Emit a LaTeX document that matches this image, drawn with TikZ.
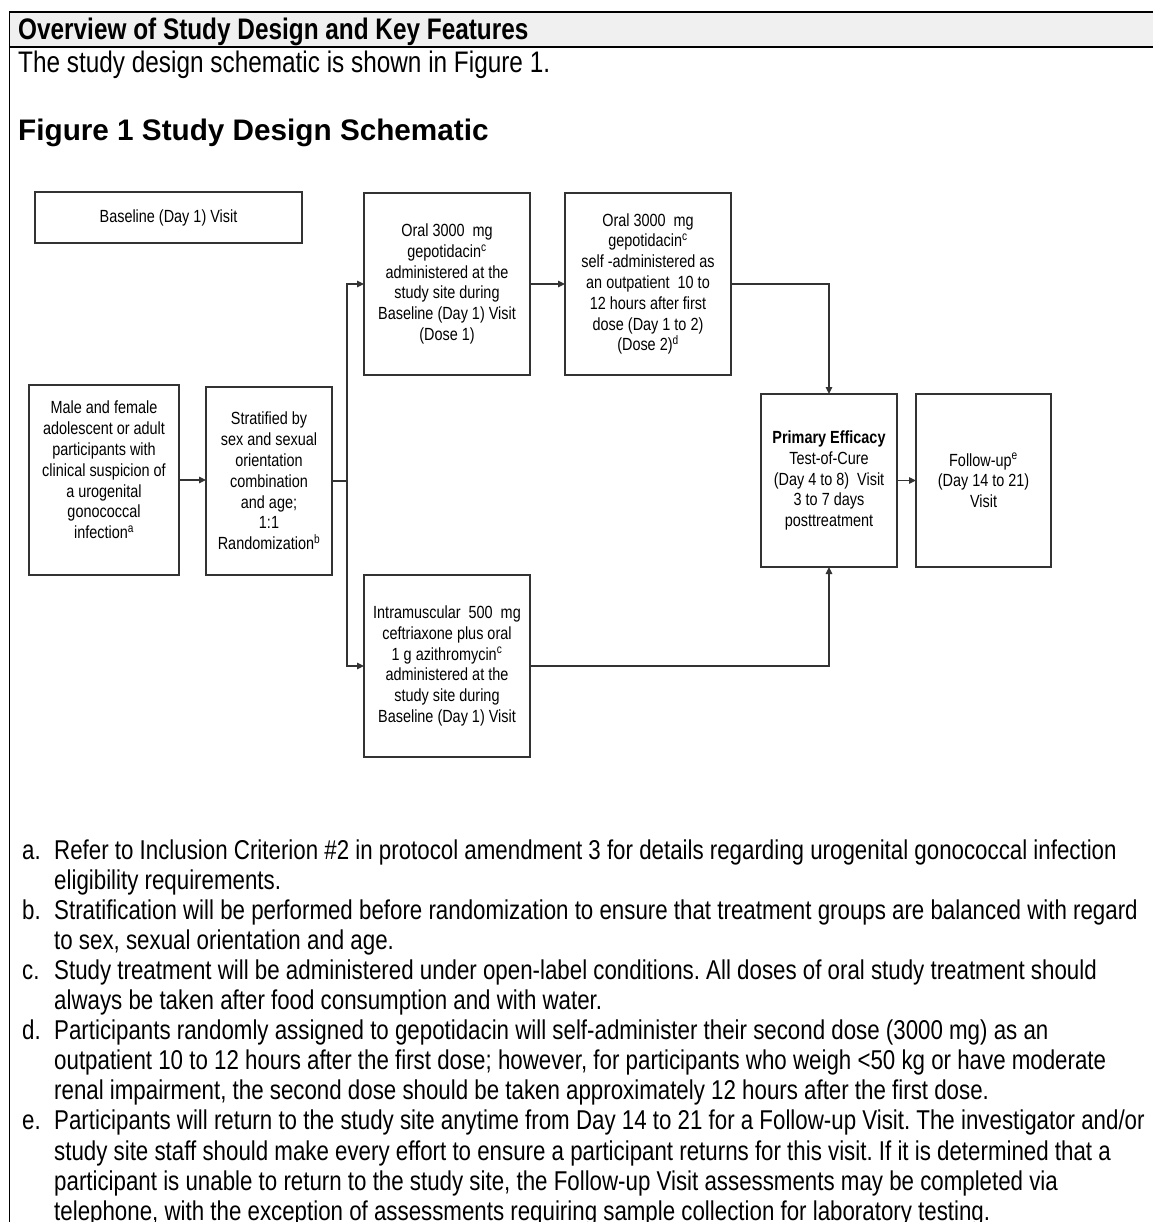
\documentclass[tikz,border=0pt]{standalone}
\usepackage{fontspec}
\setmainfont{Liberation Sans}
\newfontfamily\narrowfont[FakeStretch=0.82]{Liberation Sans}
\usetikzlibrary{arrows.meta}
\frenchspacing
\begin{document}
\begin{tikzpicture}[x=1pt,y=-1pt,
  boxnode/.style={draw=black!80, line width=1.2pt, inner sep=0pt, outer sep=0pt, align=center,
    font=\narrowfont\fontsize{17.6}{20.8}\selectfont},
  boxtext/.style={inner sep=0pt, align=center, font=\narrowfont\fontsize{17.6}{20.8}\selectfont},
  conn/.style={draw=black!80, line width=1.2pt},
  arr/.style={conn, -{Triangle[length=7pt,width=6.5pt]}},
  foot/.style={anchor=base west, inner sep=0pt, font=\frenchspacing\narrowfont\fontsize{27.2}{30}\selectfont},
]
\useasboundingbox (0,0) rectangle (1153,1222);
\fill[white] (0,0) rectangle (1153,1222);
% table frame
\fill[black!6] (9.5,12) rectangle (1153,47);
\draw[line width=1.7pt] (9.5,12) -- (1153,12);
\draw[line width=1.7pt] (9.5,47) -- (1153,47);
\draw[line width=1.3pt] (9.5,11.2) -- (9.5,1222);
\node[anchor=base west, inner sep=0pt, font=\narrowfont\bfseries\fontsize{29.7}{30}\selectfont] (hdr) at (18,40) {Overview of Study Design and Key Features};
\node[anchor=base west, inner sep=0pt, font=\narrowfont\fontsize{29.7}{30}\selectfont] (intro) at (18,73) {The study design schematic is shown in Figure 1.};
\node[anchor=base west, inner sep=0pt, font=\bfseries\fontsize{29.7}{30}\selectfont] (title) at (18,141) {Figure 1 Study Design Schematic};

% boxes
\node[boxnode, minimum width=267pt, minimum height=51pt] (base) at (168.5,217.5) {Baseline (Day 1) Visit};
\node[boxnode, minimum width=166pt, minimum height=182pt] (dose1) at (447,284) {Oral 3000\ \ mg\\gepotidacin\textsuperscript{c}\\administered at the\\study site during\\Baseline (Day 1) Visit\\(Dose 1)};
\node[boxnode, minimum width=166pt, minimum height=182pt] (dose2) at (648,284) {Oral 3000\ \ mg\\gepotidacin\textsuperscript{c}\\self -administered as\\an outpatient\ \ 10 to\\12 hours after first\\dose (Day 1 to 2)\\(Dose 2)\textsuperscript{d}};
\node[boxnode, minimum width=150pt, minimum height=190pt] (male) at (104,480) {};
\node[boxtext] (maletext) at (104,470) {Male and female\\adolescent or adult\\participants with\\clinical suspicion of\\a urogenital\\gonococcal\\infection\textsuperscript{a}};
\node[boxnode, minimum width=126pt, minimum height=188pt] (strat) at (269,481) {Stratified by\\sex and sexual\\orientation\\combination\\and age;\\1:1\\Randomization\textsuperscript{b}};
\node[boxnode, minimum width=166pt, minimum height=182pt] (ceft) at (447,666) {Intramuscular\ \ 500\ \ mg\\ceftriaxone plus oral\\1 g azithromycin\textsuperscript{c}\\administered at the\\study site during\\Baseline (Day 1) Visit};
\node[boxnode, minimum width=136pt, minimum height=173pt] (prim) at (829,480.5) {\textbf{Primary Efficacy}\\Test-of-Cure\\(Day 4 to 8)\ \ Visit\\3 to 7 days\\posttreatment};
\node[boxnode, minimum width=135pt, minimum height=173pt] (follow) at (983.5,480.5) {Follow-up\textsuperscript{e}\\(Day 14 to 21)\\Visit};

% connectors
\coordinate (jn) at (347,481);
\draw[arr] (male.east) -- (male.east -| strat.west);
\draw[conn] (strat.east) -- (jn);
\draw[arr] (jn) |- (dose1.west);
\draw[arr] (jn) |- (ceft.west);
\draw[arr] (dose1.east) -- (dose2.west);
\draw[arr] (dose2.east) -| (prim.north);
\draw[arr] (ceft.east) -| (prim.south);
\draw[arr] (prim.east) -- (follow.west);

% footnotes
\node[foot] (la) at (22,859) {a.};
\node[foot] (ta1) at (54,859) {Refer to Inclusion Criterion \#2 in protocol amendment 3 for details regarding urogenital gonococcal infection};
\node[foot] (ta2) at (54,889.1) {eligibility requirements.};
\node[foot] (lb) at (22,919.2) {b.};
\node[foot] (tb1) at (54,919.2) {Stratification will be performed before randomization to ensure that treatment groups are balanced with regard};
\node[foot] (tb2) at (54,949.3) {to sex, sexual orientation and age.};
\node[foot] (lc) at (22,979.4) {c.};
\node[foot] (tc1) at (54,979.4) {Study treatment will be administered under open-label conditions. All doses of oral study treatment should};
\node[foot] (tc2) at (54,1009.5) {always be taken after food consumption and with water.};
\node[foot] (ld) at (22,1039.6) {d.};
\node[foot] (td1) at (54,1039.6) {Participants randomly assigned to gepotidacin will self-administer their second dose (3000 mg) as an};
\node[foot] (td2) at (54,1069.7) {outpatient 10 to 12 hours after the first dose; however, for participants who weigh <50 kg or have moderate};
\node[foot] (td3) at (54,1099.8) {renal impairment, the second dose should be taken approximately 12 hours after the first dose.};
\node[foot] (le) at (22,1129.9) {e.};
\node[foot] (te1) at (54,1129.9) {Participants will return to the study site anytime from Day 14 to 21 for a Follow-up Visit. The investigator and/or};
\node[foot] (te2) at (54,1160) {study site staff should make every effort to ensure a participant returns for this visit. If it is determined that a};
\node[foot] (te3) at (54,1190.1) {participant is unable to return to the study site, the Follow-up Visit assessments may be completed via};
\node[foot] (te4) at (54,1220.2) {telephone, with the exception of assessments requiring sample collection for laboratory testing.};
\end{tikzpicture}
\end{document}
